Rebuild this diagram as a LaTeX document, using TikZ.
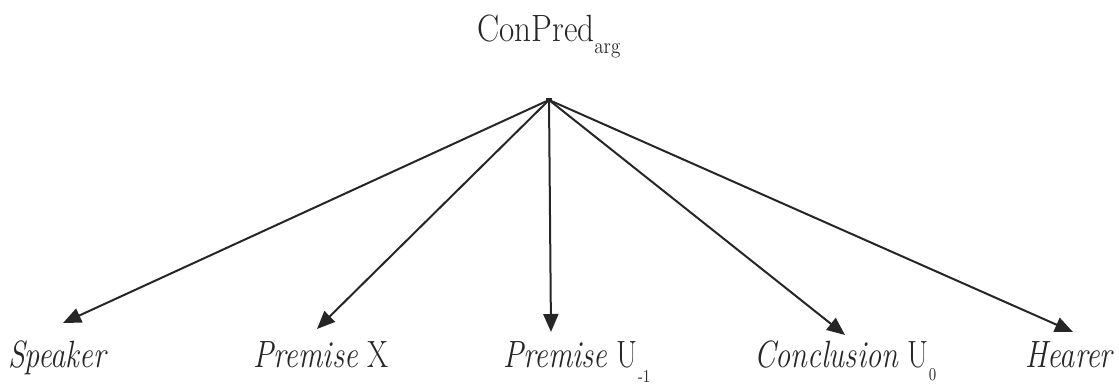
\documentclass[tikz,border=0pt]{standalone}
\usetikzlibrary{arrows.meta}
\newcommand{\nrw}[1]{\scalebox{0.8}[1]{#1}}
\newcommand{\lowsub}[2]{\raisebox{-#1}{\fontsize{9}{9}\selectfont #2}}
\begin{document}
\begin{tikzpicture}[x=0.5pt,y=-0.5pt,
  lbl/.style={inner sep=0pt, anchor=base, font=\fontsize{19}{22}\selectfont, text=black!85},
  arr/.style={line width=1pt, draw=black!85, -{Triangle[length=9pt,width=7.5pt]}}]
\useasboundingbox (0,0) rectangle (1119,385);
\node[lbl, anchor=base west] (title) at (477,42) {\scalebox{0.87}[1]{ConPred}\raisebox{-6pt}{\fontsize{11}{11}\selectfont\scalebox{0.87}[1]{arg}}};
\coordinate (root) at (549,100);
\node[lbl] (spk) at (58,367) {\nrw{\textit{Speaker}}};
\node[lbl] (prx) at (321,367) {\nrw{\textit{Premise} X}};
\node[lbl, anchor=base west] (pru) at (503,367) {\nrw{\textit{Premise} U}\lowsub{7.5pt}{\nrw{-1}}};
\node[lbl, anchor=base west] (con) at (754,367) {\nrw{\textit{Conclusion} U}\lowsub{6.5pt}{\nrw{0}}};
\node[lbl] (hea) at (1070,367) {\nrw{\textit{Hearer}}};
\coordinate (t1) at (63,323);
\coordinate (t2) at (317,329);
\coordinate (t3) at (551,332);
\coordinate (t4) at (845,335);
\coordinate (t5) at (1073,332);
\foreach \t in {t1,t2,t3,t4,t5} \draw[arr] (root) -- (\t);
\fill[black!85] (root) ++(-3,-2) rectangle ++(6,4);
\end{tikzpicture}
\end{document}
